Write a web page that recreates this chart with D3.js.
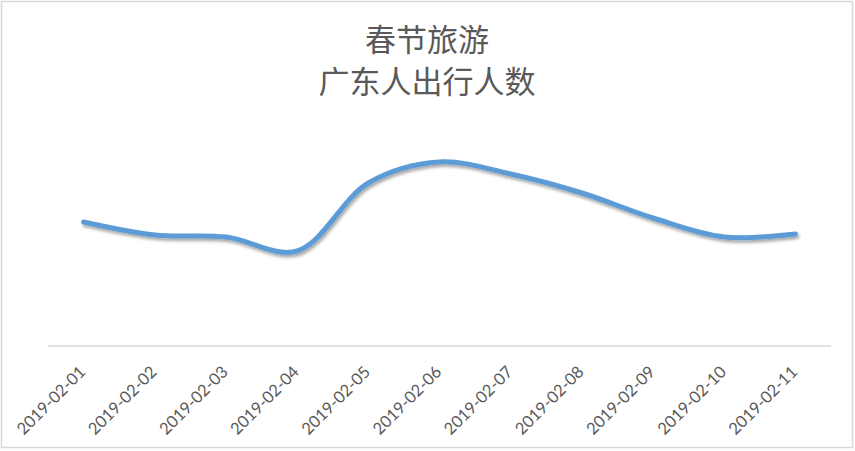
<!DOCTYPE html>
<html lang="zh-CN">
<head>
<meta charset="utf-8">
<title>春节旅游</title>
<script src="https://cdn.jsdelivr.net/npm/d3@7/dist/d3.min.js"></script>
<style>
  body { margin: 0; background: #fff; }
  svg text { fill: #595959; }
  .title { font-family: "Noto Sans CJK SC", sans-serif; font-size: 31px; }
  .tick-label { font-family: Lato, "Liberation Sans", sans-serif; font-size: 16.5px; }
</style>
</head>
<body>
<div id="chart"></div>
<script>
  // data (no y axis shown, units arbitrary)
  var dates = ["2019-02-01", "2019-02-02", "2019-02-03", "2019-02-04", "2019-02-05", "2019-02-06",
               "2019-02-07", "2019-02-08", "2019-02-09", "2019-02-10", "2019-02-11"];
  var travellers = [124, 111, 109, 95, 163, 184, 172, 153, 128, 109, 112];
  var titleLines = ["春节旅游", "广东人出行人数"];

  var width = 855, height = 451;
  var left = 48, right = 831, axisY = 346, plotTop = 96;

  var svg = d3.select("#chart").append("svg")
      .attr("width", width)
      .attr("height", height);

  // drop shadow for the line
  var defs = svg.append("defs");
  var shadow = defs.append("filter")
      .attr("id", "shadow")
      .attr("x", "-10%").attr("y", "-50%")
      .attr("width", "120%").attr("height", "200%");
  shadow.append("feDropShadow")
      .attr("dx", 1.5).attr("dy", 2.5)
      .attr("stdDeviation", 1.6)
      .attr("flood-color", "#000")
      .attr("flood-opacity", 0.35);

  // chart border
  svg.append("rect")
      .attr("x", 1.5).attr("y", 1.5)
      .attr("width", 851).attr("height", 446)
      .attr("fill", "#fff")
      .attr("stroke", "#d9d9d9")
      .attr("stroke-width", 1.5);

  var x = d3.scaleBand()
      .domain(dates)
      .range([left, right]);

  var y = d3.scaleLinear()
      .domain([0, 250])
      .range([axisY, plotTop]);

  // title
  svg.append("g").selectAll("text")
    .data(titleLines)
    .enter().append("text")
      .attr("class", "title")
      .attr("x", 427)
      .attr("y", (d, i) => 51 + i * 42)
      .attr("text-anchor", "middle")
      .text(d => d);

  // x axis line
  svg.append("line")
      .attr("x1", left).attr("x2", right)
      .attr("y1", axisY).attr("y2", axisY)
      .attr("stroke", "#d9d9d9")
      .attr("stroke-width", 1.5);

  // rotated tick labels
  svg.append("g").selectAll("text")
    .data(dates)
    .enter().append("text")
      .attr("class", "tick-label")
      .attr("text-anchor", "end")
      .attr("transform", d => {
        var cx = x(d) + x.bandwidth() / 2 + 3;
        return "translate(" + cx + "," + (axisY + 27) + ") rotate(-45)";
      })
      .text(d => d);

  // smoothed line
  var line = d3.line()
      .x((d, i) => x(dates[i]) + x.bandwidth() / 2)
      .y(d => y(d))
      .curve(d3.curveCatmullRom.alpha(0.5));

  svg.append("path")
      .datum(travellers)
      .attr("d", line)
      .attr("fill", "none")
      .attr("stroke", "#5b9bd5")
      .attr("stroke-width", 5)
      .attr("stroke-linecap", "round")
      .attr("stroke-linejoin", "round")
      .attr("filter", "url(#shadow)");
</script>
</body>
</html>
